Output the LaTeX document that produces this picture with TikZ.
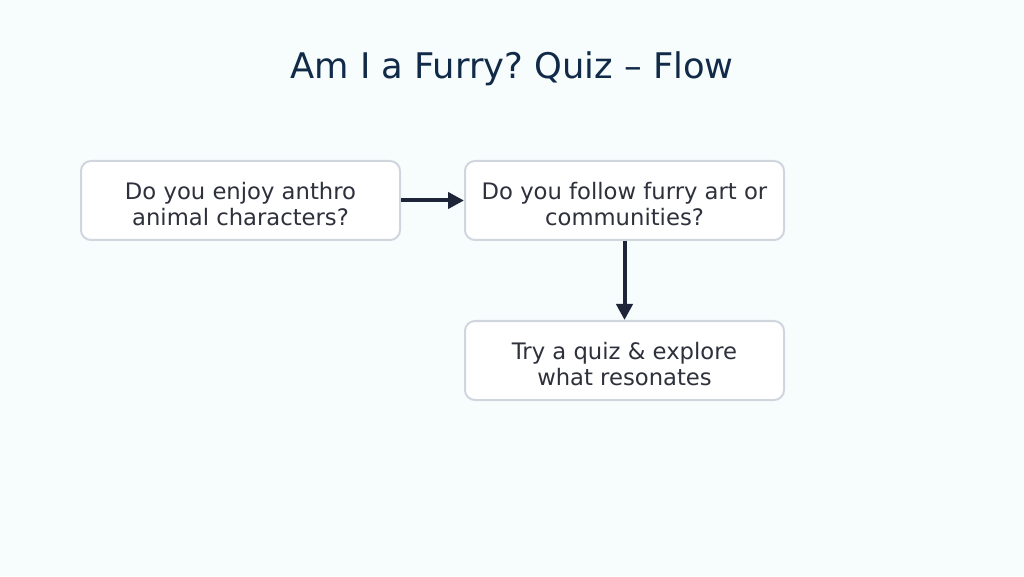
\documentclass[tikz,border=0pt]{standalone}
\usepackage{fontspec}
\setmainfont{DejaVu Sans}
\usetikzlibrary{arrows.meta,positioning}
\frenchspacing

\definecolor{bgtint}{RGB}{247,252,253}
\definecolor{titleink}{RGB}{16,42,72}
\definecolor{boxline}{RGB}{208,214,222}
\definecolor{boxtext}{RGB}{46,48,60}
\definecolor{arrowink}{RGB}{30,37,56}

\begin{document}
\begin{tikzpicture}[x=1pt,y=1pt,
    quizbox/.style={draw=boxline, line width=2pt, rounded corners=10pt, fill=white,
        minimum width=319pt, minimum height=79pt, align=center, text=boxtext,
        font=\fontsize{22.7}{26}\selectfont, execute at begin node=\rule{0pt}{50pt}},
    flowarrow/.style={draw=arrowink, line width=4pt, -{Triangle[length=16pt,width=16pt]}}]

    % Sfondo e cornice
    \fill[bgtint] (0,0) rectangle (1024,576);
    \useasboundingbox (0,0) rectangle (1024,576);

    % Titolo
    \node[anchor=base, text=titleink, font=\fontsize{35.3}{40}\selectfont] (title) at (512,497) {Am I a Furry? Quiz – Flow};

    % Caselle
    \node[quizbox] (anthro) at (240.5,375.5) {Do you enjoy anthro\\animal characters?};
    \node[quizbox, right=63pt of anthro] (follow) {Do you follow furry art or\\communities?};
    \node[quizbox, below=79pt of follow] (explore) {Try a quiz \& explore\\what resonates};

    % Frecce
    \draw[flowarrow] (anthro.east) -- (follow.west);
    \draw[flowarrow] (follow.south) -- (explore.north);
\end{tikzpicture}
\end{document}
